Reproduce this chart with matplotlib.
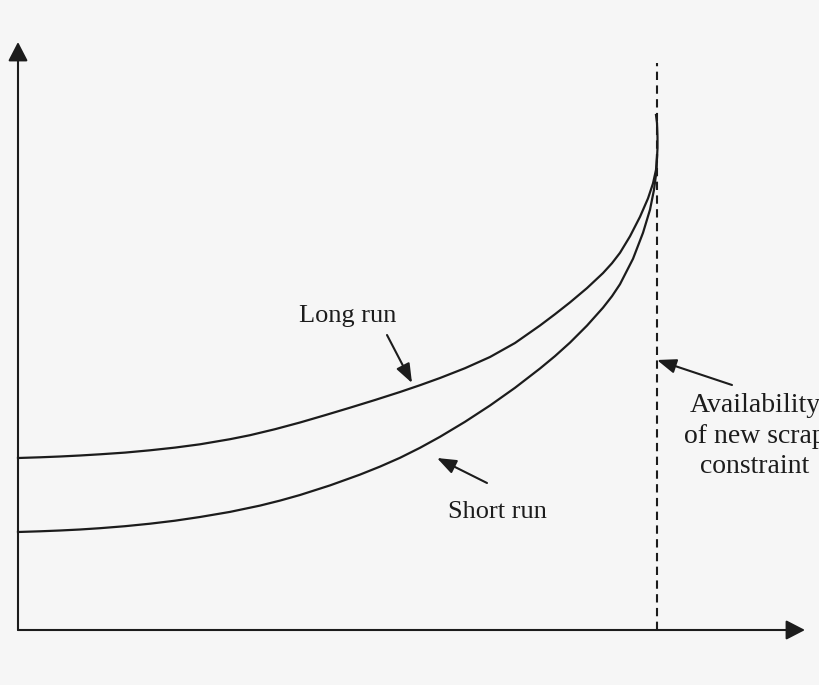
import matplotlib
matplotlib.use("Agg")
import matplotlib.pyplot as plt

# quantity (new scrap availability reached at x = 639) and cost, arbitrary units
long_x = [0, 22, 42, 62, 82, 107, 132, 157, 182, 212, 232, 257, 282, 307, 332,
          357, 382, 402, 422, 447, 472, 497, 522, 537, 552, 569, 585, 594, 602,
          612, 622, 630, 635, 638, 639, 639.5, 639.5, 639, 638]
long_y = [172, 172.7, 173.5, 174.5, 175.7, 177.4, 179.7, 182.4, 185.7, 190.8,
          194.8, 200.8, 207.5, 214.8, 222.3, 230.0, 238.0, 244.8, 252.0, 261.8,
          273.0, 287.0, 304.5, 315.8, 327.6, 341.9, 356.9, 366.8, 377.2, 393.7,
          413.2, 431.6, 446.6, 460.1, 472.1, 482.1, 493, 507, 515]

short_x = [0, 22, 42, 62, 82, 107, 132, 157, 182, 212, 242, 262, 282, 312, 342,
           362, 382, 402, 422, 447, 472, 497, 522, 537, 552, 569, 585, 594, 602,
           615, 625, 632, 636, 638.5, 639]
short_y = [98, 98.7, 99.5, 100.5, 101.8, 103.8, 106.3, 109.3, 113, 118.1, 124.4,
           129.4, 135, 144.6, 155.4, 163.4, 172.2, 182.2, 193.2, 208.2, 224.5,
           242.2, 261.5, 273.9, 287.4, 304.4, 322.3, 333.8, 345.8, 371.2, 397.2,
           420.3, 440.3, 459, 474.6]

capacity = 639
capacity_top = 567
x_axis_end = 787
y_axis_end = 588

labels = ["Long run", "Short run"]
constraint_lines = ["Availability", "of new scrap", "constraint"]

ink = "#1c1c1c"
bg = "#f6f6f6"

fig = plt.figure(figsize=(8.2, 6.85), dpi=100, facecolor=bg)
ax = fig.add_axes([0, 0, 1, 1])
ax.set_facecolor(bg)
ax.set_xlim(-18, 802)
ax.set_ylim(-55, 630)
ax.axis("off")

font = dict(family=["Liberation Serif", "DejaVu Serif"], size=19, color=ink)

# axes with arrow heads
ax_arrow = dict(arrowstyle="-|>,head_length=0.58,head_width=0.3", color=ink,
                lw=1.5, mutation_scale=20, shrinkA=0, shrinkB=0)
ax.annotate("", xy=(0, y_axis_end), xytext=(0, 0), arrowprops=ax_arrow)
ax.annotate("", xy=(x_axis_end, 0), xytext=(0, 0), arrowprops=ax_arrow)

# capacity constraint
ax.plot([capacity, capacity], [0, capacity_top], color=ink, lw=1.5,
        linestyle=(0, (4, 2.6)))

# cost curves
ax.plot(long_x, long_y, color=ink, lw=1.6, solid_joinstyle="round")
ax.plot(short_x, short_y, color=ink, lw=1.6, solid_joinstyle="round")

ptr = dict(arrowstyle="-|>,head_length=0.58,head_width=0.22", color=ink,
           lw=1.5, mutation_scale=20, shrinkA=0, shrinkB=0)

ax.text(330, 308, labels[0], ha="center", va="baseline", **font)
ax.annotate("", xy=(394, 247), xytext=(369, 295), arrowprops=ptr)

ax.text(479, 112, labels[1], ha="center", va="baseline", **font)
ax.annotate("", xy=(419, 172), xytext=(469, 147), arrowprops=ptr)

right_font = dict(font, size=20)
for line, yb in zip(constraint_lines, [218, 187, 157]):
    ax.text(737, yb, line, ha="center", va="baseline", **right_font)
ax.annotate("", xy=(capacity, 270), xytext=(714, 245), arrowprops=ptr)

fig.savefig("out.png", dpi=100, facecolor=bg)
